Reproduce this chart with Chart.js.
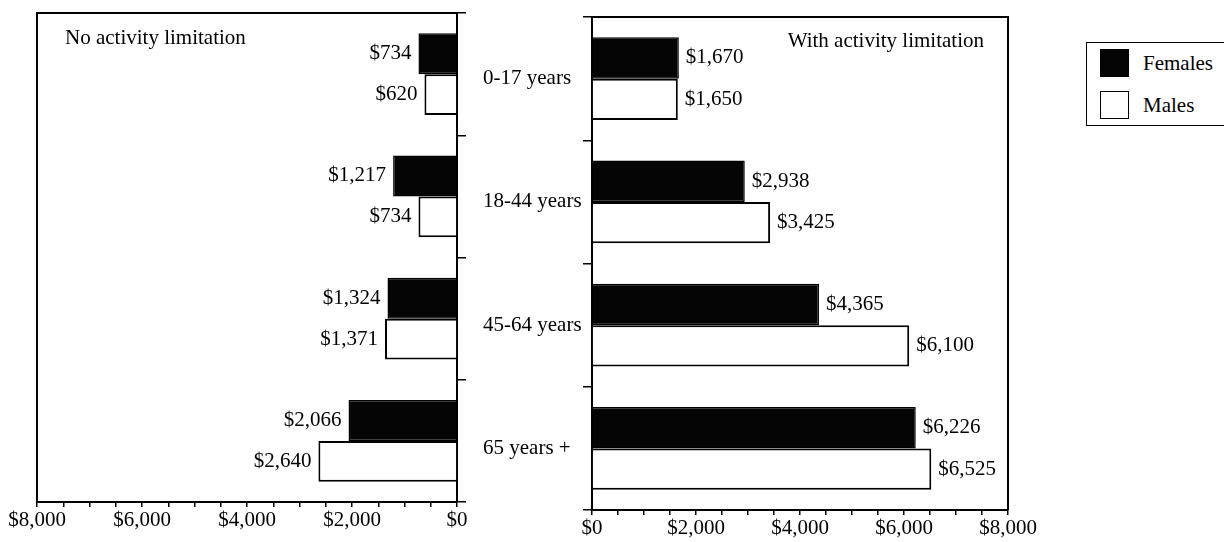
<!DOCTYPE html>
<html>
<head>
<meta charset="utf-8">
<title>Expenses by age, sex and activity limitation</title>
<script src="https://cdn.jsdelivr.net/npm/chart.js@4.4.1/dist/chart.umd.min.js"></script>
<style>
  html, body { margin: 0; padding: 0; background: #fff; }
  body { width: 1224px; height: 542px; position: relative; overflow: hidden; font-family: "Liberation Serif", serif; }
  .panel { position: absolute; top: 0; height: 542px; }
  #leftPanel { left: 0; width: 480px; }
  #rightPanel { left: 470px; width: 570px; }
  #legend { position: absolute; left: 1086px; top: 42px; width: 160px; height: 84px; box-sizing: border-box; border: 1.5px solid #000; }
  .swatch { position: absolute; left: 13px; width: 29px; height: 28px; box-sizing: border-box; border: 1.5px solid #000; }
  .legendText { position: absolute; left: 56px; height: 28px; line-height: 28px; font-size: 21px; color: #000; }
</style>
</head>
<body>
<div class="panel" id="leftPanel"><canvas id="chartNoLimit"></canvas></div>
<div class="panel" id="rightPanel"><canvas id="chartWithLimit"></canvas></div>
<div id="legend"></div>

<script>
/* ===================================
   Data
   =================================== */
const ageGroups = ['0-17 years', '18-44 years', '45-64 years', '65 years +'];
const seriesNames = ['Females', 'Males'];
const seriesFill = ['#050505', '#ffffff'];

const femalesNoLimit = [734, 1217, 1324, 2066];
const malesNoLimit = [620, 734, 1371, 2640];
const femalesWithLimit = [1670, 2938, 4365, 6226];
const malesWithLimit = [1650, 3425, 6100, 6525];

const axisLabels = [0, 2000, 4000, 6000, 8000];
const panelTitles = ['No activity limitation', 'With activity limitation'];

const serif = { family: '"Liberation Serif", serif', size: 21 };
const canvasFont = '21px "Liberation Serif", serif';
Chart.defaults.color = '#000';

function money(v) {
  return '$' + v.toLocaleString('en-US');
}

// value labels next to the bar ends
const barValues = {
  id: 'barValues',
  afterDatasetsDraw(chart, args, opts) {
    const ctx = chart.ctx;
    ctx.save();
    ctx.font = canvasFont;
    ctx.fillStyle = '#000';
    ctx.textBaseline = 'middle';
    ctx.textAlign = opts.side === 'left' ? 'right' : 'left';
    chart.data.datasets.forEach((ds, i) => {
      chart.getDatasetMeta(i).data.forEach((bar, j) => {
        const x = opts.side === 'left' ? bar.x - 7 : bar.x + 7;
        ctx.fillText(money(ds.data[j]), x, bar.y);
      });
    });
    ctx.restore();
  }
};

// box lines round the plot + panel title
const frame = {
  id: 'frame',
  afterDraw(chart, args, opts) {
    const a = chart.chartArea;
    const ctx = chart.ctx;
    ctx.save();
    ctx.strokeStyle = '#000';
    ctx.lineWidth = 2;
    ctx.beginPath();
    if (opts.side === 'left') {
      ctx.moveTo(a.left, a.bottom);
      ctx.lineTo(a.left, a.top);
      ctx.lineTo(a.right, a.top);
    } else {
      ctx.moveTo(a.left, a.top);
      ctx.lineTo(a.right, a.top);
      ctx.lineTo(a.right, a.bottom);
    }
    ctx.stroke();

    ctx.font = canvasFont;
    ctx.fillStyle = '#000';
    ctx.textBaseline = 'alphabetic';
    if (opts.side === 'left') {
      ctx.textAlign = 'left';
      ctx.fillText(opts.title, a.left + 28, a.top + 31);
    } else {
      ctx.textAlign = 'right';
      ctx.fillText(opts.title, a.right - 24, a.top + 30);
    }
    ctx.restore();
  }
};

function buildPanel(canvasId, side, females, males, title) {
  const isLeft = side === 'left';

  return new Chart(document.getElementById(canvasId), {
    type: 'bar',
    data: {
      labels: ageGroups,
      datasets: [
        {
          label: seriesNames[0],
          data: females,
          backgroundColor: seriesFill[0],
          borderColor: '#000',
          borderWidth: 1.5,
          categoryPercentage: 0.67,
          barPercentage: 1
        },
        {
          label: seriesNames[1],
          data: males,
          backgroundColor: seriesFill[1],
          borderColor: '#000',
          borderWidth: 2,
          categoryPercentage: 0.67,
          barPercentage: 1
        }
      ]
    },
    options: {
      indexAxis: 'y',
      responsive: true,
      maintainAspectRatio: false,
      animation: false,
      layout: {
        padding: isLeft ? { left: 37, top: 13, right: 0, bottom: 0 }
                        : { left: 13, top: 17, right: 32, bottom: 0 }
      },
      plugins: {
        legend: { display: false },
        tooltip: { enabled: false },
        barValues: { side: side },
        frame: { side: side, title: title }
      },
      scales: {
        x: {
          min: 0,
          max: 8000,
          reverse: isLeft,
          afterFit: s => { s.height = isLeft ? 40 : 32; },
          border: { display: true, color: '#000', width: 2 },
          grid: { drawOnChartArea: false, color: '#000', tickLength: 5, lineWidth: 1.5 },
          ticks: {
            stepSize: 500,
            autoSkip: false,
            maxRotation: 0,
            padding: 1,
            color: '#000',
            font: serif,
            callback: v => axisLabels.includes(v) ? money(v) : ''
          }
        },
        y: {
          position: isLeft ? 'right' : 'left',
          afterFit: s => { s.width = isLeft ? 23 : 109; },
          border: { display: true, color: '#000', width: 2 },
          grid: { drawOnChartArea: false, color: '#000', tickLength: 9, lineWidth: 1.5, offset: true },
          ticks: {
            display: !isLeft,
            crossAlign: 'far',
            padding: 0,
            color: '#000',
            font: serif
          }
        }
      }
    },
    plugins: [barValues, frame]
  });
}

buildPanel('chartNoLimit', 'left', femalesNoLimit, malesNoLimit, panelTitles[0]);
buildPanel('chartWithLimit', 'right', femalesWithLimit, malesWithLimit, panelTitles[1]);

// legend box
const legend = document.getElementById('legend');
seriesNames.forEach((name, i) => {
  const top = 6 + i * 42;
  const sw = document.createElement('div');
  sw.className = 'swatch';
  sw.style.top = top + 'px';
  sw.style.background = seriesFill[i];
  legend.appendChild(sw);

  const txt = document.createElement('div');
  txt.className = 'legendText';
  txt.style.top = top + 'px';
  txt.textContent = name;
  legend.appendChild(txt);
});
</script>
</body>
</html>
